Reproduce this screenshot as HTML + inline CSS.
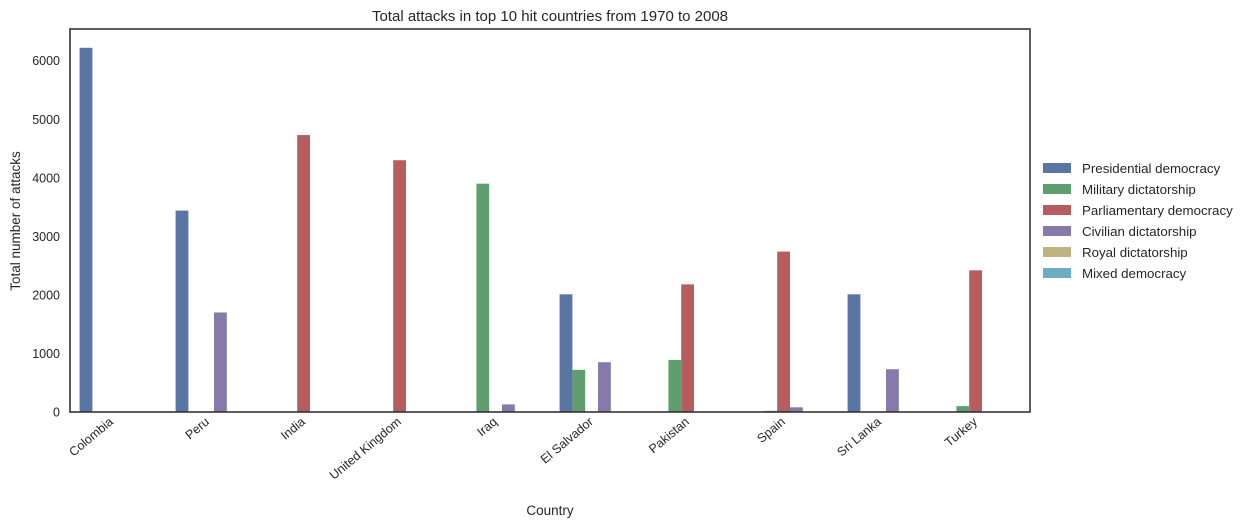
<!DOCTYPE html>
<html><head><meta charset="utf-8"><style>
body{margin:0;background:#fff;font-family:"Liberation Sans",sans-serif;}
svg text{font-family:"Liberation Sans",sans-serif;fill:#262626;}
</style></head><body>
<svg id="chart" width="1254" height="527">
<text x="550" y="21" font-size="15" text-anchor="middle">Total attacks in top 10 hit countries from 1970 to 2008</text>
<g id="bars"></g>
<rect x="70" y="29" width="960" height="383" fill="none" stroke="#333" stroke-width="1.6"/>
<g id="yticks"></g><g id="xticks"></g>
<text x="550" y="515" font-size="13.5" text-anchor="middle">Country</text>
<text transform="translate(20,221) rotate(-90)" font-size="13.5" text-anchor="middle">Total number of attacks</text>
<g id="legend"></g>
</svg>
<script>
const categories=["Colombia","Peru","India","United Kingdom","Iraq","El Salvador","Pakistan","Spain","Sri Lanka","Turkey"];
const seriesNames=["Presidential democracy","Military dictatorship","Parliamentary democracy","Civilian dictatorship","Royal dictatorship","Mixed democracy"];
const colors=["#5875a4","#5f9e6e","#b55d60","#857aab","#c1b37f","#6cadc5"];
const presidential=[6220,3440,0,0,0,2010,0,0,2010,0];
const military=[0,0,0,0,3900,720,890,20,0,100];
const parliamentary=[0,0,4730,4300,0,0,2180,2740,0,2420];
const civilian=[0,1700,0,0,130,850,0,80,730,0];
const royal=[0,0,0,0,0,0,0,0,0,0];
const mixed=[0,0,0,0,0,0,0,0,0,0];
const yTicks=[0,1000,2000,3000,4000,5000,6000];
const series=[presidential,military,parliamentary,civilian,royal,mixed];
const NS="http://www.w3.org/2000/svg";
const L=70,R=1030,B=412;
const y=v=>B-v*0.05855;
const gw=(R-L)/categories.length,bw=gw*0.8/6;
const bars=document.getElementById('bars');
function mk(t,a,p){const e=document.createElementNS(NS,t);for(const k in a)e.setAttribute(k,a[k]);p.appendChild(e);return e;}
categories.forEach((c,i)=>{
 const cx=L+gw*(i+0.5);
 series.forEach((s,j)=>{
  const v=s[i]; if(!v) return;
  const r=mk('rect',{x:cx-gw*0.4+j*bw,y:y(v),width:bw,height:B-y(v),fill:colors[j]},bars);
  
  
 });
 const t=mk('text',{transform:`translate(${cx-4},${423}) rotate(-40)`,'font-size':12.5,'text-anchor':'end'},document.getElementById('xticks'));
 t.textContent=c;
 
 
});
yTicks.forEach(v=>{
 const t=mk('text',{x:60,y:y(v)+4.5,'font-size':12.5,'text-anchor':'end'},document.getElementById('yticks'));
 t.textContent=v;
 
 
});
const lg=document.getElementById('legend');
seriesNames.forEach((n,j)=>{
 const yy=168+j*21;
 const g=mk('g',{},lg);
 
 
 mk('rect',{x:1043,y:yy-5,width:28,height:10,fill:colors[j]},g);
 const t=mk('text',{x:1082,y:yy+5,'font-size':13.3},g);t.textContent=n;
});
</script>
</body></html>
